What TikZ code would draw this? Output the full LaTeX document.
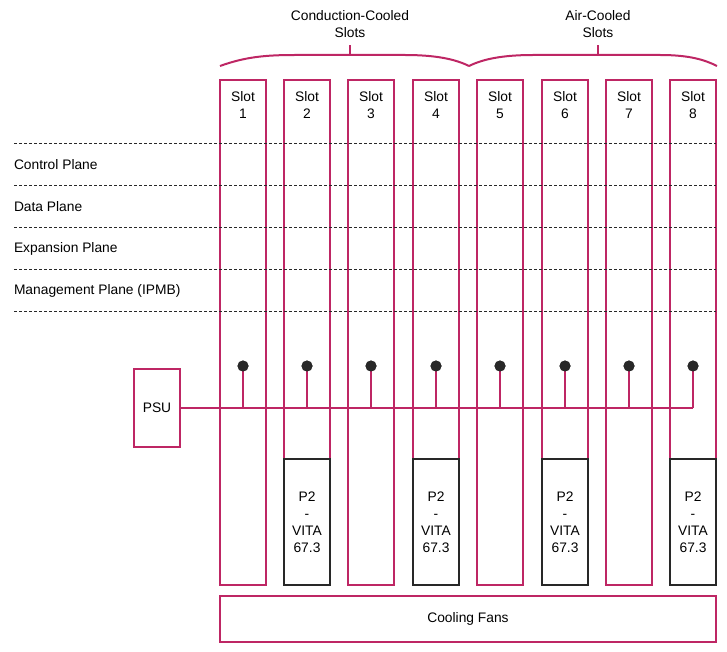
\documentclass[tikz,border=0pt]{standalone}
\usepackage{fontspec}
\setmainfont{Liberation Sans}
\definecolor{pk}{RGB}{190,38,100}
\definecolor{dk}{RGB}{40,40,40}
\begin{document}
\begin{tikzpicture}[x=1pt,y=-1pt,
  every node/.style={font=\fontsize{13.8}{17}\selectfont, inner sep=0pt, outer sep=0pt},
  pkbox/.style={draw=pk, line width=2pt, fill=white},
  dkbox/.style={draw=dk, line width=2pt, fill=white},
  lbl/.style={align=center, text=black},
  plane/.style={anchor=west, text=black},
  dline/.style={draw=dk, line width=1pt, dash pattern=on 3pt off 2pt},
  wire/.style={draw=pk, line width=2pt},
  dotn/.style={circle, fill=dk, minimum size=11pt},
  bracep/.style={draw=pk, line width=2pt}
]
\useasboundingbox (0,0) rectangle (727,652);

% slot columns
\foreach \k/\xl in {1/220,2/284,3/348,4/413,5/477,6/542,7/606,8/670}{
  \pgfmathsetmacro{\xc}{\xl+23}
  \ifodd\k
    \node[pkbox, minimum width=46pt, minimum height=505pt, anchor=north west] (s\k) at (\xl,80) {};
  \else
    \node[pkbox, minimum width=46pt, minimum height=379pt, anchor=north west] (s\k) at (\xl,80) {};
    \node[dkbox, minimum width=46pt, minimum height=126pt, anchor=north west] (p\k) at (\xl,459) {};
    \node[lbl] (pt\k) at (\xc,522) {P2\\-\\VITA\\67.3};
  \fi
  \node[lbl, anchor=north] (sl\k) at (\xc,92) {Slot\\\k};
}

% planes
\foreach \y in {143.5,185.5,227.5,269.5,311.5}{
  \draw[dline] (14,\y) -- (716,\y);
}
\node[plane] (cp) at (14,165) {Control Plane};
\node[plane] (dp) at (14,207) {Data Plane};
\node[plane] (ep) at (14,249) {Expansion Plane};
\node[plane] (mp) at (14,291) {Management Plane (IPMB)};

% PSU and power bus
\node[pkbox, minimum width=46pt, minimum height=78pt, anchor=north west] (psu) at (134,369) {};
\node[lbl] (psut) at (psu.center) {PSU};
\foreach \k/\xl in {1/220,2/284,3/348,4/413,5/477,6/542,7/606,8/670}{
  \pgfmathsetmacro{\xc}{\xl+23}
  \coordinate (b\k) at (\xc,408);
  \node[dotn] (d\k) at (\xc,366) {};
  \draw[wire] (d\k.center) -- (b\k);
}
\draw[wire] (psu.east) -- (b8);
\foreach \k in {1,...,8}{ \node[dotn] at (d\k) {}; }

% cooling fans
\node[pkbox, minimum width=496pt, minimum height=46pt, anchor=north west] (fans) at (220,596) {};
\node[lbl] (fanst) at (fans.center) {Cooling Fans};

% braces
\draw[bracep] (220,66) .. controls (245,57) and (265,55) .. (295,55) -- (405,55) .. controls (435,55) and (455,59) .. (469,66);
\draw[bracep] (350,55) -- (350,45);
\draw[bracep] (469,66) .. controls (483,59) and (503,55) .. (533,55) -- (660,55) .. controls (690,55) and (705,60) .. (717,66);
\draw[bracep] (598,55) -- (598,45);
\node[lbl] (cc) at (350,24) {Conduction-Cooled\\Slots};
\node[lbl] (ac) at (598,24) {Air-Cooled\\Slots};
\end{tikzpicture}
\end{document}
